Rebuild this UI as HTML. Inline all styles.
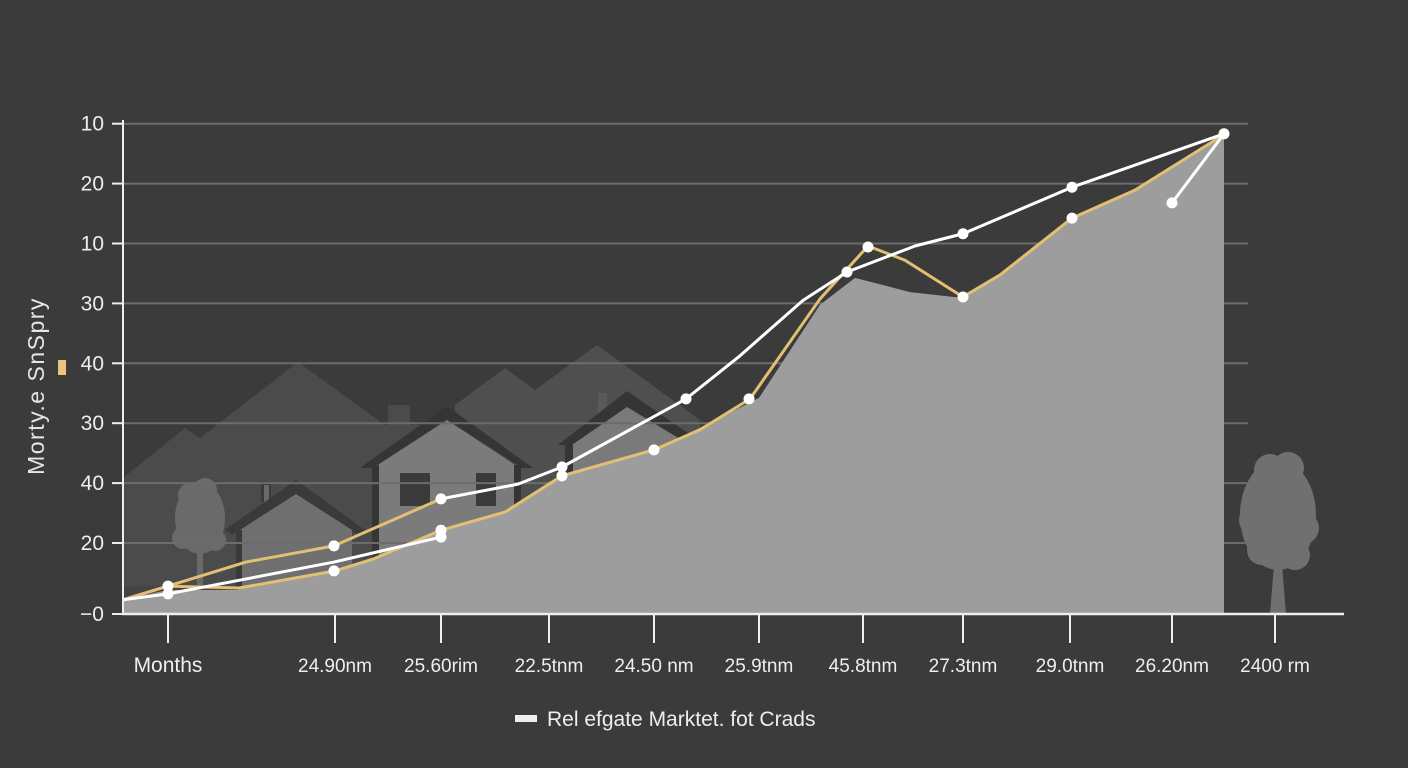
<!DOCTYPE html>
<html><head><meta charset="utf-8"><style>
html,body{margin:0;padding:0;background:#3b3b3b;}
svg{display:block;font-family:"Liberation Sans",sans-serif;}
</style></head><body>
<svg id="chart" width="1408" height="768" viewBox="0 0 1408 768">
<rect width="1408" height="768" fill="#3b3b3b"/>
<g id="scenery">
 <polygon points="123,478 185,428 200,438 298,362 385,425 700,425 700,614 123,614" fill="#4b4b4b"/>
 <polygon points="455,405 505,368 535,390 597,345 700,420 700,614 455,614" fill="#4f4f4f"/>
 <rect x="388" y="405" width="22" height="20" fill="#4b4b4b"/>
 <rect x="123" y="586" width="120" height="28" fill="#444"/>
 <rect x="261" y="482" width="10" height="20" fill="#3a3a3a"/>
 <rect x="264" y="485" width="5" height="17" fill="#6a6a6a"/>
 <polygon points="225,530 296,480 365,530 358,535 296,494 232,535" fill="#3a3a3a"/>
 <polygon points="240,530 296,494 352,530 352,614 240,614" fill="#6f6f6f"/>
 <rect x="236" y="530" width="6" height="84" fill="#3a3a3a"/>
 <polygon points="360,468 447,406 533,468 522,468 447,420 372,468" fill="#353535"/>
 <polygon points="378,465 447,420 515,465 515,614 378,614" fill="#7b7b7b"/>
 <rect x="372" y="465" width="7" height="149" fill="#353535"/>
 <rect x="514" y="465" width="7" height="149" fill="#353535"/>
 <rect x="400" y="473" width="30" height="33" fill="#3a3a3a"/>
 <rect x="476" y="473" width="20" height="33" fill="#3a3a3a"/>
 <rect x="598" y="393" width="9" height="22" fill="#5a5a5a"/>
 <polygon points="558,445 627,391 705,445 690,445 627,407 572,445" fill="#353535"/>
 <polygon points="572,445 627,407 690,445 690,614 572,614" fill="#7a7a7a"/>
 <rect x="565" y="445" width="8" height="169" fill="#353535"/>
 <g fill="#6a6a6a">
  <ellipse cx="200" cy="518" rx="25" ry="36"/>
  <circle cx="190" cy="495" r="12"/><circle cx="205" cy="490" r="12"/>
  <circle cx="183" cy="538" r="11"/><circle cx="215" cy="540" r="11"/>
  <rect x="197" y="540" width="6" height="45"/>
 </g>
 <g fill="#707070">
  <ellipse cx="1278" cy="515" rx="38" ry="55"/>
  <circle cx="1270" cy="470" r="16"/><circle cx="1288" cy="468" r="16"/>
  <circle cx="1255" cy="520" r="16"/><circle cx="1303" cy="528" r="16"/>
  <circle cx="1262" cy="550" r="15"/><circle cx="1295" cy="555" r="15"/>
  <polygon points="1274,565 1282,565 1286,614 1270,614"/>
 </g>
</g>
<g id="grid"></g>
<g id="area"></g>
<g id="lines"></g>
<g id="axes"></g>
<text x="44" y="386" fill="#e6e6e6" font-size="23" letter-spacing="1.5" text-anchor="middle" transform="rotate(-90 44 386)">Morty.e SnSpry</text>
<rect x="58" y="360" width="8" height="15" fill="#e8c57a"/>
<rect x="515" y="715" width="22" height="7" fill="#eeeeee"/>
<text x="547" y="726" fill="#eeeeee" font-size="21">Rel efgate Marktet. fot Crads</text>
</svg>
<script>
const yTickLabels = ["−0","20","40","30","40","30","10","20","10"];
const xTickLabels = ["Months","24.90nm","25.60rim","22.5tnm","24.50 nm","25.9tnm","45.8tnm","27.3tnm","29.0tnm","26.20nm","2400 rm"];
const xTickValues = [45,212,318,426,531,636,740,840,947,1049,1152];
const areaX = [0,45,114,212,252,318,382,437,531,577,636,697,732,787,840,877,947,1012,1101];
const areaY = [2.9,4.9,4.9,8.6,11.4,17.1,20.8,27.8,33.5,38,44.1,63.1,68.6,65.7,64.5,69.2,80.8,86.5,98];
const yellowX = [0,45,116,212,250,318,382,439,531,577,627,697,745,782,840,877,949,1012,1099];
const yellowY = [2.9,5.7,5.3,8.8,11.2,17.1,20.8,28.2,33.5,37.6,43.9,64.3,75.1,72.2,64.7,69.2,80.8,86.5,97.6];
const yellowUpX = [0,45,123,211,318];
const yellowUpY = [2.9,5.7,10.6,13.9,23.5];
const whiteAX = [0,45,211,318];
const whiteAY = [2.9,4.1,10.6,15.7];
const whiteBX = [318,395,439,563,617,680,724,792,840,949,1101,1049];
const whiteBY = [23.5,26.5,30,43.9,52.7,64,69.8,75.1,77.6,87.1,98,83.9];
const yellowMarkX = [211,318,439,531,626,745,840,949];
const yellowMarkY = [8.8,17.1,28.2,33.5,43.9,74.9,64.7,80.8];
const whiteMarkX = [45,45,211,318,318,439,563,724,840,949,1101,1049];
const whiteMarkY = [5.7,4.1,13.9,15.7,23.5,30,43.9,69.8,77.6,87.1,98,83.9];

const NS="http://www.w3.org/2000/svg";
const X0=123, Y0=614, PXY=4.9;
function sx(v){return X0+v;}
function sy(v){return Y0-v*PXY;}
function mk(tag,attrs,parent){const e=document.createElementNS(NS,tag);for(const k in attrs)e.setAttribute(k,attrs[k]);parent.appendChild(e);return e;}
const grid=document.getElementById('grid'),area=document.getElementById('area'),lines=document.getElementById('lines'),axes=document.getElementById('axes');

yTickLabels.forEach((lab,i)=>{
  const yy=i===0?614:543-(i-1)*59.9;
  if(i>0){const g=mk('line',{x1:123,x2:1248,y1:yy,y2:yy,stroke:'#6c6c6c','stroke-width':2},grid);
    
    }
  const t=mk('line',{x1:112,x2:123,y1:yy,y2:yy,stroke:'#eee','stroke-width':2},axes);
  
  
  const tx=mk('text',{x:104,y:yy+7,fill:'#eee','font-size':21,'text-anchor':'end'},axes);
  tx.textContent=lab;
  
  
});

let d='M'+sx(areaX[0])+','+Y0;
areaX.forEach((x,i)=>{d+=' L'+sx(x)+','+sy(areaY[i]);});
d+=' L'+sx(areaX[areaX.length-1])+','+Y0+' Z';
const ap=mk('path',{d:d,fill:'#9d9d9d'},area);



function line(xs,ys,color,name){
  const p=mk('polyline',{points:xs.map((x,i)=>sx(x)+','+sy(ys[i])).join(' '),fill:'none',stroke:color,'stroke-width':3,'stroke-linejoin':'round'},lines);
  
  
}
line(yellowX,yellowY,'#e3bf73','yellow-line');
line(yellowUpX,yellowUpY,'#e3bf73','yellow-upper-line');
line(whiteAX,whiteAY,'#ffffff','white-line-lower');
line(whiteBX,whiteBY,'#ffffff','white-line');
yellowMarkX.concat(whiteMarkX).forEach((x,i)=>{
  const yv=i<yellowMarkX.length?yellowMarkY[i]:whiteMarkY[i-yellowMarkX.length];
  const c=mk('circle',{cx:sx(x),cy:sy(yv),r:5.5,fill:'#ffffff'},lines);
  
  
});

const ya=mk('line',{x1:123,x2:123,y1:120,y2:615,stroke:'#eee','stroke-width':2},axes);


const xa=mk('line',{x1:122,x2:1344,y1:614,y2:614,stroke:'#eee','stroke-width':2.5},axes);


xTickValues.forEach((v,i)=>{
  const x=sx(v);
  const t=mk('line',{x1:x,x2:x,y1:614,y2:643,stroke:'#eee','stroke-width':2},axes);
  
  
  const tx=mk('text',{x:x,y:672,fill:'#eee','font-size':i===0?21:19,'text-anchor':'middle'},axes);
  tx.textContent=xTickLabels[i];
  
  
});
</script>
</body></html>
